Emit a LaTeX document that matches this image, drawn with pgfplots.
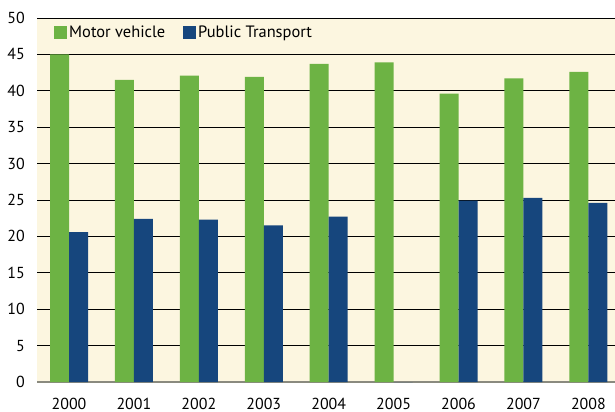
\documentclass[border=0pt]{standalone}
\usepackage{pgfplots}
\pgfplotsset{compat=1.18}
\usepackage{fontspec}
\setmainfont{PT Sans}

\definecolor{cream}{HTML}{FCF6E0}
\definecolor{motor}{HTML}{6DB344}
\definecolor{public}{HTML}{16467D}
\definecolor{axisgray}{HTML}{8A8A7F}

\begin{document}
\begin{tikzpicture}
\begin{axis}[
    width=578bp, height=364bp, scale only axis,
    ybar=0pt, bar width=19bp,
    xmin=-0.493, xmax=8.41,
    ymin=0, ymax=50,
    ytick={0,5,...,50},
    xtick=data,
    xticklabels={2000,2001,2002,2003,2004,2005,2006,2007,2008},
    major tick length=0pt,
    ymajorgrids,
    major grid style={draw=black, line width=0.9bp},
    axis background/.style={fill=cream},
    axis x line*=bottom, axis y line*=left,
    y axis line style={draw=none},
    x axis line style={draw=axisgray, line width=1.6bp},
    tick label style={font=\fontsize{16}{18}\selectfont},
    /pgf/number format/assume math mode=true,
    yticklabel style={anchor=east, inner sep=0pt, xshift=-12bp},
    xticklabel style={anchor=base, inner sep=0pt, yshift=-27bp},
    legend style={at={(axis description cs:0,1)}, anchor=north west,
        xshift=14bp, yshift=-4bp,
        draw=none, fill=none, legend columns=2,
        font=\fontsize{16.5}{18}\selectfont,
        nodes={inner sep=2bp},
        /tikz/every even column/.append style={column sep=16bp}},
    legend image code/.code={\path[#1] (0bp,-6.5bp) rectangle (13bp,6.5bp);},
]
\addplot[fill=motor, draw=none] coordinates {
    (0,45.0) (1,41.5) (2,42.1) (3,41.9) (4,43.7) (5,43.9) (6,39.6) (7,41.7) (8,42.6)};
\addplot[fill=public, draw=none] coordinates {
    (0,20.6) (1,22.4) (2,22.3) (3,21.5) (4,22.7) (5,0) (6,24.9) (7,25.3) (8,24.6)};
\legend{Motor vehicle, Public Transport}
\end{axis}
\pgfresetboundingbox
\path ([xshift=-37bp,yshift=-30bp]current axis.south west) rectangle ([yshift=18bp]current axis.north east);
\end{tikzpicture}
\end{document}
